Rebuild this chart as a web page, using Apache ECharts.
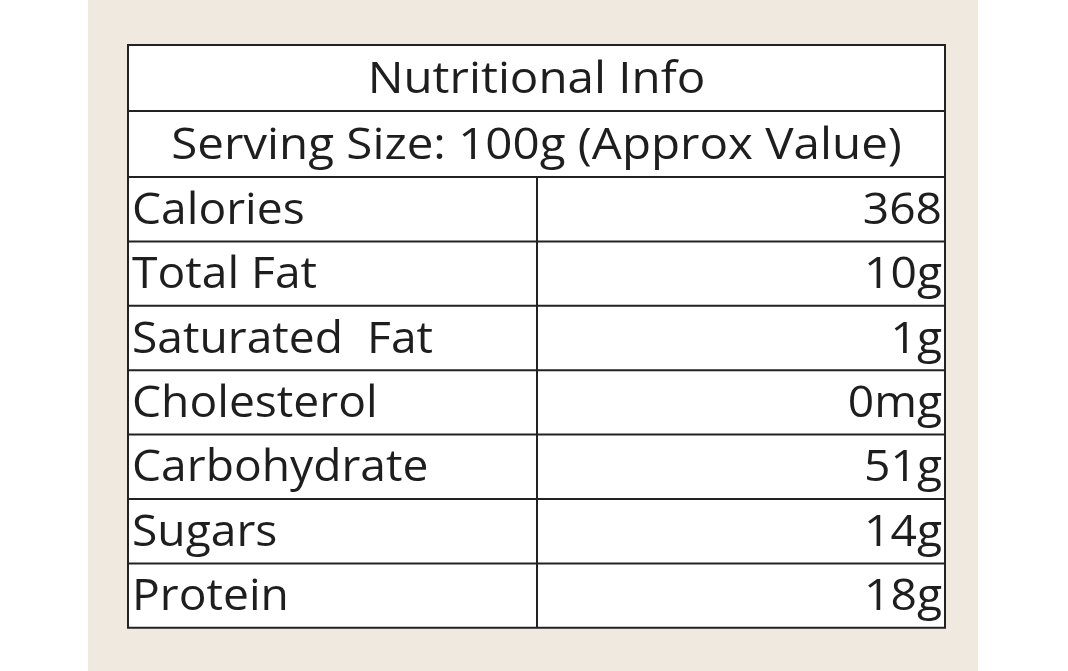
<!DOCTYPE html>
<html><head><meta charset="utf-8">
<script src="https://cdn.jsdelivr.net/npm/echarts@6/dist/echarts.min.js"></script>
<style>html,body{margin:0;padding:0;background:#fff}#c{width:1068px;height:671px}</style>
</head><body><div id="c"></div>
<script>
const title = "Nutritional Info";
const subtitle = "Serving Size: 100g (Approx Value)";
const nutrients = ["Calories","Total Fat","Saturated  Fat","Cholesterol","Carbohydrate","Sugars","Protein"];
const amounts = ["368","10g","1g","0mg","51g","14g","18g"];

const chart = echarts.init(document.getElementById('c'));
const L=128, R=945, T=45, mid=537;
const headH=66, rowH=64.4;
const font = '"Open Sans", "Noto Sans", sans-serif';
const tc = '#1e1e1e';
const els = [];
els.push({type:'rect',shape:{x:88,y:0,width:890,height:671},style:{fill:'#efe9df'}});
const bottom = T+2*headH+nutrients.length*rowH;
els.push({type:'rect',shape:{x:L,y:T,width:R-L,height:bottom-T},style:{fill:'#fff',stroke:'#222',lineWidth:2}});
els.push({type:'text',x:(L+R)/2,y:T+headH/2+2,scaleX:1.08,style:{text:title,font:'44px '+font,fill:tc,align:'center',verticalAlign:'middle'}});
els.push({type:'line',shape:{x1:L,y1:T+headH,x2:R,y2:T+headH},style:{stroke:'#222',lineWidth:2}});
els.push({type:'text',x:(L+R)/2,y:T+headH*1.5+2,scaleX:1.08,style:{text:subtitle,font:'44px '+font,fill:tc,align:'center',verticalAlign:'middle'}});
const y0 = T+2*headH;
els.push({type:'line',shape:{x1:L,y1:y0,x2:R,y2:y0},style:{stroke:'#222',lineWidth:2}});
els.push({type:'line',shape:{x1:mid,y1:y0,x2:mid,y2:bottom},style:{stroke:'#222',lineWidth:2}});
nutrients.forEach((n,i)=>{
  const y=y0+i*rowH;
  if(i>0) els.push({type:'line',shape:{x1:L,y1:y,x2:R,y2:y},style:{stroke:'#222',lineWidth:2}});
  els.push({type:'text',x:L+4,y:y+rowH/2+2,scaleX:1.05,style:{text:n,font:'44px '+font,fill:tc,align:'left',verticalAlign:'middle'}});
  els.push({type:'text',x:R-3,y:y+rowH/2+2,scaleX:1.05,style:{text:amounts[i],font:'44px '+font,fill:tc,align:'right',verticalAlign:'middle'}});
});
chart.setOption({backgroundColor:'#fff',graphic:{elements:els}});
</script></body></html>
